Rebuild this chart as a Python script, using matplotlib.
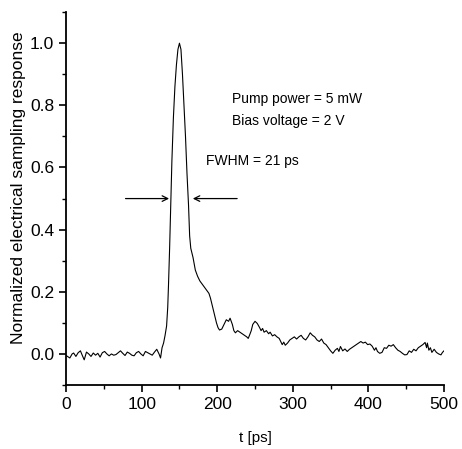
import matplotlib
matplotlib.use("Agg")
import matplotlib.pyplot as plt
from matplotlib.ticker import MultipleLocator

plt.rcParams["font.family"] = ["Liberation Sans Narrow", "Liberation Sans", "DejaVu Sans"]

# time axis [ps] and normalized response
t_ps = [
    0, 3, 5, 8, 10, 13, 16, 19, 21, 24, 27, 30, 33, 36, 39, 42, 45, 48, 51, 54,
    57, 60, 63, 66, 69, 72, 75, 78, 81, 84, 87, 90, 93, 96, 99, 102, 105, 108,
    111, 114, 117, 120, 123, 125,
    127, 129, 131, 133, 134.5, 135.5, 137, 138.5, 140, 142, 144, 146, 148, 150,
    152, 154, 156, 158, 160, 162, 163.5, 165, 168, 171, 174, 177, 180, 183, 186,
    189, 191, 193, 195, 197, 199, 201, 203, 206, 209, 212, 215, 217, 220, 222,
    224, 227, 230, 233, 236, 239, 241, 243, 245, 247, 250, 253, 256, 258, 260,
    262, 265, 268, 270, 273, 276, 279, 282, 284, 286, 288, 290, 293, 296, 299,
    302, 305, 308, 311, 314, 317, 320, 323, 326, 329, 332, 335, 338, 341, 344,
    347, 350, 353, 356, 359, 361, 363, 366, 369, 372, 375, 378, 381, 384, 387,
    390, 393, 396, 399, 402, 405, 408, 410, 412, 415, 418, 421, 424, 427, 430,
    433, 436, 439, 442, 445, 448, 451, 454, 457, 460, 463, 466, 469, 472, 475,
    477, 478, 480, 482, 484, 487, 490, 493, 496, 498, 500,
]
response = [
    -0.005, -0.010, -0.013, 0.000, 0.003, -0.008, 0.004, 0.010, -0.002, -0.019,
    0.006, 0.000, -0.008, 0.003, -0.004, 0.002, -0.010, 0.004, 0.008, 0.000,
    -0.006, 0.000, -0.004, -0.002, 0.004, 0.010, 0.002, -0.005, 0.006, 0.002,
    -0.004, -0.006, 0.004, 0.008, 0.000, -0.006, 0.008, 0.004, 0.000, -0.004,
    0.006, 0.015, 0.000, -0.013,
    0.020, 0.035, 0.060, 0.090, 0.150, 0.220, 0.340, 0.480, 0.620, 0.760,
    0.860, 0.930, 0.980, 1.000, 0.980, 0.900, 0.800, 0.700, 0.580, 0.480,
    0.380, 0.340, 0.310, 0.270, 0.250, 0.235, 0.225, 0.215, 0.205, 0.195,
    0.180, 0.160, 0.140, 0.120, 0.100, 0.085, 0.077, 0.080, 0.095, 0.110,
    0.105, 0.115, 0.095, 0.075, 0.068, 0.075, 0.070, 0.065, 0.060, 0.055,
    0.050, 0.062, 0.075, 0.095, 0.105, 0.098, 0.085, 0.075, 0.082, 0.070,
    0.075, 0.065, 0.070, 0.058, 0.062, 0.055, 0.050, 0.040, 0.030, 0.038,
    0.028, 0.035, 0.045, 0.050, 0.055, 0.048, 0.055, 0.060, 0.050, 0.045,
    0.055, 0.068, 0.060, 0.055, 0.045, 0.040, 0.048, 0.035, 0.030, 0.020,
    0.010, 0.002, 0.012, 0.018, 0.008, 0.024, 0.010, 0.016, 0.008, 0.015,
    0.020, 0.025, 0.030, 0.035, 0.040, 0.035, 0.038, 0.030, 0.032, 0.025,
    0.012, 0.020, 0.008, 0.002, 0.005, 0.020, 0.018, 0.028, 0.025, 0.030,
    0.020, 0.012, 0.008, 0.002, -0.003, -0.002, 0.010, 0.005, 0.015, 0.010,
    0.020, 0.025, 0.030, 0.037, 0.020, 0.035, 0.012, 0.020, 0.005, 0.015,
    0.005, 0.000, -0.003, 0.005, 0.010,
]

# FWHM marker arrows (left arrow tail/head, right arrow tail/head) at half max
fwhm_level = 0.5
left_arrow = (75, 140)
right_arrow = (230, 164)

fig = plt.figure(figsize=(4.62, 4.49), dpi=100)
ax = fig.add_axes([0.143, 0.1425, 0.818, 0.8305])

ax.plot(t_ps, response, color="black", lw=0.8)

ax.annotate("", xy=(left_arrow[1], fwhm_level), xytext=(left_arrow[0], fwhm_level),
            arrowprops=dict(arrowstyle="->", color="black", lw=0.9))
ax.annotate("", xy=(right_arrow[1], fwhm_level), xytext=(right_arrow[0], fwhm_level),
            arrowprops=dict(arrowstyle="->", color="black", lw=0.9))

ax.text(185, 0.62, "FWHM = 21 ps", fontsize=10, va="center")
ax.text(220, 0.82, "Pump power = 5 mW", fontsize=10, va="center")
ax.text(220, 0.75, "Bias voltage = 2 V", fontsize=10, va="center")

ax.set_xlim(0, 500)
ax.set_ylim(-0.1, 1.1)
ax.xaxis.set_major_locator(MultipleLocator(100))
ax.xaxis.set_minor_locator(MultipleLocator(50))
ax.yaxis.set_major_locator(MultipleLocator(0.2))
ax.yaxis.set_minor_locator(MultipleLocator(0.1))
ax.yaxis.set_major_formatter(plt.FormatStrFormatter("%.1f"))
ax.set_yticks([0.0, 0.2, 0.4, 0.6, 0.8, 1.0])

for side in ("top", "right"):
    ax.spines[side].set_visible(False)
for side in ("left", "bottom"):
    ax.spines[side].set_linewidth(1.3)
ax.tick_params(which="major", length=5, width=1.2, labelsize=12.5)
ax.tick_params(which="minor", length=3, width=1.0)

ax.set_xlabel("t [ps]", fontsize=11, labelpad=14)
ax.set_ylabel("Normalized electrical sampling response", fontsize=12.5)
ax.yaxis.set_label_coords(-0.105, 0.53)

fig.savefig("out.png", dpi=100)
